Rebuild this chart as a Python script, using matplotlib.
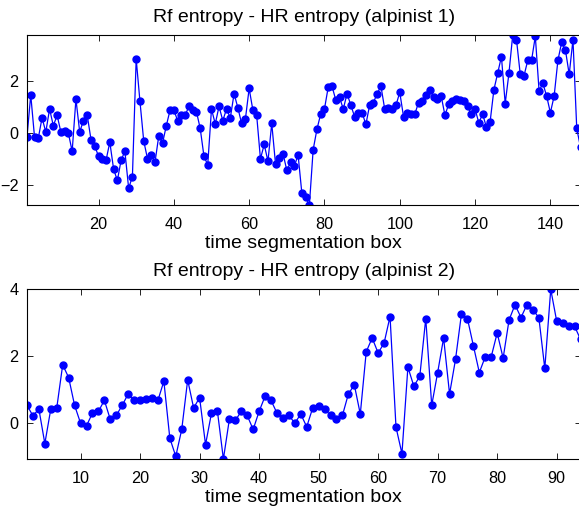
import numpy as np
import matplotlib.pyplot as plt

plt.rcParams['font.family'] = ['Liberation Sans', 'DejaVu Sans']

# alpinist 1: Rf entropy - HR entropy per time segmentation box
d1 = [-0.14, 1.47, -0.14, -0.19, 0.59, 0.05, 0.93, 0.29, 0.69, 0.05,
      0.10, 0.00, -0.69, 1.31, 0.05, 0.49, 0.69, -0.24, -0.49, -0.88,
      -0.97, -1.03, -0.34, -1.37, -1.81, -1.03, -0.69, -2.11, -1.66, 2.85,
      1.23, -0.29, -0.97, -0.83, -1.11, -0.10, -0.38, 0.29, 0.89, 0.89,
      0.49, 0.69, 0.69, 1.03, 0.89, 0.83, 0.19, -0.88, -1.21, 0.93,
      0.36, 1.03, 0.49, 0.93, 0.59, 1.52, 0.98, 0.38, 0.54, 1.72,
      0.88, 0.69, -0.98, -0.43, -1.07, 0.38, -1.17, -0.93, -0.78, -1.42,
      -1.12, -1.26, -0.83, -2.30, -2.45, -2.75, -0.63, 0.15, 0.74, 0.93,
      1.77, 1.81, 1.28, 1.38, 0.93, 1.52, 1.08, 0.64, 0.79, 0.79,
      0.34, 1.08, 1.18, 1.52, 1.81, 0.93, 0.98, 0.93, 1.08, 1.57,
      0.64, 0.79, 0.74, 0.74, 1.18, 1.23, 1.47, 1.67, 1.38, 1.33,
      1.43, 0.69, 1.12, 1.23, 1.33, 1.28, 1.23, 1.03, 0.74, 0.93,
      0.40, 0.74, 0.24, 0.45, 1.67, 2.31, 2.94, 1.14, 2.31, 3.77,
      3.59, 2.26, 2.21, 2.80, 2.80, 3.72, 1.62, 1.92, 1.43, 0.79,
      1.43, 2.80, 3.49, 3.19, 2.26, 3.59, 0.19, -0.54]

# alpinist 2
d2 = [0.53, 0.22, 0.42, -0.61, 0.42, 0.45, 1.74, 1.36, 0.53, 0.00,
      -0.08, 0.30, 0.35, 0.68, 0.11, 0.23, 0.53, 0.87, 0.68, 0.68,
      0.72, 0.76, 0.68, 1.25, -0.45, -0.99, -0.19, 1.29, 0.45, 0.76,
      -0.64, 0.30, 0.35, -1.07, 0.11, 0.08, 0.35, 0.23, -0.19, 0.35,
      0.80, 0.68, 0.30, 0.15, 0.23, 0.00, 0.27, -0.11, 0.45, 0.50,
      0.42, 0.23, 0.11, 0.23, 0.87, 1.14, 0.27, 2.13, 2.54, 2.09,
      2.39, 3.18, -0.12, -0.91, 1.67, 1.10, 1.40, 3.12, 0.53, 1.51,
      2.54, 0.87, 1.90, 3.26, 3.12, 2.31, 1.51, 1.98, 1.98, 2.69,
      1.94, 3.08, 3.53, 3.15, 3.53, 3.38, 3.15, 1.63, 3.99, 3.04,
      3.00, 2.89, 2.89, 2.50]

titles = ['Rf entropy - HR entropy (alpinist 1)',
          'Rf entropy - HR entropy (alpinist 2)']
xticks = [[20, 40, 60, 80, 100, 120, 140], [10, 20, 30, 40, 50, 60, 70, 80, 90]]
yticks = [[-2, 0, 2], [0, 2, 4]]

fig = plt.figure(figsize=(5.79, 5.14), dpi=100)
ax1 = fig.add_axes([0.0466, 0.6012, 0.956, 0.3307])
ax2 = fig.add_axes([0.0466, 0.107, 0.956, 0.3307])

for ax, d, t, xt, yt in zip([ax1, ax2], [d1, d2], titles, xticks, yticks):
    x = np.arange(1, len(d) + 1)
    ax.plot(x, d, '-o', color='#0000ff', lw=0.9, ms=5)
    ax.set_xlim(1, len(d))
    ax.set_ylim(min(d), max(d))
    ax.set_xticks(xt)
    ax.set_yticks(yt)
    ax.tick_params(direction='in', top=True, right=True, length=4, width=0.6,
                   labelsize=11.7)
    ax.tick_params(axis='x', pad=8.5)
    ax.tick_params(axis='y', pad=6)
    ax.set_title(t, fontsize=14, pad=9.5)
    ax.set_xlabel('time segmentation box', fontsize=14, labelpad=2.5)
    for s in ax.spines.values():
        s.set_linewidth(0.8)

fig.savefig('out.png', dpi=100)
